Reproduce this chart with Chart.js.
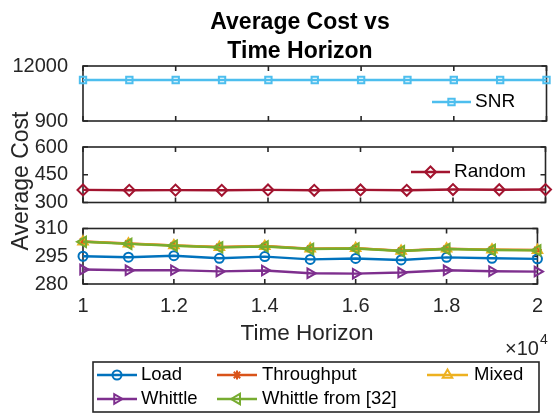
<!DOCTYPE html>
<html>
<head>
<meta charset="utf-8">
<script src="https://cdn.jsdelivr.net/npm/chart.js@4.4.1/dist/chart.umd.min.js"></script>
<style>
  html, body { margin: 0; padding: 0; background: #fff; }
  #wrap { position: relative; width: 553px; height: 414px; }
  #wrap canvas { position: absolute; left: 0; top: 0; }
</style>
</head>
<body>
<div id="wrap">
  <canvas id="snrCanvas" width="553" height="414"></canvas>
  <canvas id="randomCanvas" width="553" height="414"></canvas>
  <canvas id="lowCanvas" width="553" height="414"></canvas>
</div>
<script>
// ---------------------- DATA (time horizon in steps, x-axis shown as x10^4)
const timeHorizon = [10000, 11000, 12000, 13000, 14000, 15000, 16000, 17000, 18000, 19000, 20000];
const xTicks = [10000, 12000, 14000, 16000, 18000, 20000];
const xTickLabels = ['1', '1.2', '1.4', '1.6', '1.8', '2'];

const snrCost = [9170, 9170, 9170, 9170, 9170, 9170, 9170, 9170, 9170, 9170, 9170];
const randomCost = [368, 366, 367, 366, 368, 366, 368, 366, 370, 369, 370];
const loadCost = [295.0, 294.5, 295.3, 293.9, 294.8, 293.3, 293.8, 293.0, 294.4, 293.9, 293.6];
const throughputCost = [303.0, 301.9, 300.9, 300.0, 300.5, 299.1, 299.4, 298.0, 299.1, 298.6, 298.4];
const mixedCost = [302.9, 301.8, 300.8, 299.9, 300.4, 299.0, 299.3, 297.9, 299.0, 298.5, 298.3];
const whittleCost = [287.8, 287.4, 287.5, 286.8, 287.3, 285.8, 285.6, 286.2, 287.4, 286.9, 286.7];
const whittleRef32Cost = [302.8, 301.7, 300.7, 299.8, 300.3, 298.9, 299.2, 297.8, 298.9, 298.4, 298.2];

const snrTicks = [900, 12000];
const randomTicks = [300, 450, 600];
const lowTicks = [280, 295, 310];

const titleLines = ['Average Cost vs', 'Time Horizon'];
const yTitle = 'Average Cost';
const xTitle = 'Time Horizon';

// ---------------------- STYLE
const fontFamily = '"Liberation Sans", Arial, Helvetica, sans-serif';
const axisColor = '#262626';
const X_AXIS_HEIGHT = 40;

function series(label, values, color, pointStyle, radius, rotation, order) {
    return {
        label: label,
        order: order,
        data: timeHorizon.map((t, i) => ({ x: t, y: values[i] })),
        borderColor: color,
        backgroundColor: color,
        borderWidth: 2.4,
        pointStyle: pointStyle,
        pointRadius: radius,
        pointRotation: rotation,
        pointBorderColor: color,
        pointBackgroundColor: 'rgba(0,0,0,0)',
        pointBorderWidth: 2,
        clip: false,
        tension: 0
    };
}

const snrSeries = series('SNR', snrCost, '#4DBEEE', 'rect', 4.5, 0, 0);
const randomSeries = series('Random', randomCost, '#A2142F', 'rectRot', 5.5, 0, 0);
const loadSeries = series('Load', loadCost, '#0072BD', 'circle', 4.5, 0, 5);
const throughputSeries = series('Throughput', throughputCost, '#D95319', 'star', 4.5, 0, 4);
const mixedSeries = series('Mixed', mixedCost, '#EDB120', 'triangle', 5.5, 0, 3);
const whittleSeries = series('Whittle', whittleCost, '#7E2F8E', 'triangle', 5.5, 90, 2);
const whittleRefSeries = series('Whittle from [32]', whittleRef32Cost, '#77AC30', 'triangle', 6, -90, 1);

//---------------------- PLUGINS

function drawLegendSample(ctx, ds, x0, x1, y) {
    ctx.strokeStyle = ds.borderColor;
    ctx.lineWidth = ds.borderWidth;
    ctx.beginPath();
    ctx.moveTo(x0, y);
    ctx.lineTo(x1, y);
    ctx.stroke();
    ctx.lineWidth = ds.pointBorderWidth;
    ctx.fillStyle = 'rgba(0,0,0,0)';
    Chart.helpers.drawPoint(ctx, {
        pointStyle: ds.pointStyle,
        radius: ds.pointRadius,
        rotation: ds.pointRotation,
        borderWidth: ds.pointBorderWidth
    }, (x0 + x1) / 2, y);
}

// box + inward ticks, drawn under the data like matlab
const boxPlugin = {
    id: 'matlabBox',
    beforeDatasetsDraw(chart, args, opts) {
        const ctx = chart.ctx;
        const a = chart.chartArea;
        const xs = chart.scales.x;
        const ys = chart.scales.y;
        ctx.save();
        ctx.strokeStyle = axisColor;
        ctx.lineWidth = 1.6;
        ctx.strokeRect(a.left, a.top, a.right - a.left, a.bottom - a.top);
        ctx.beginPath();
        xTicks.forEach(v => {
            const px = xs.getPixelForValue(v);
            ctx.moveTo(px, a.top); ctx.lineTo(px, a.top + 5);
            ctx.moveTo(px, a.bottom); ctx.lineTo(px, a.bottom - 5);
        });
        opts.yTicks.forEach(v => {
            const py = ys.getPixelForValue(v);
            ctx.moveTo(a.left, py); ctx.lineTo(a.left + 5, py);
            ctx.moveTo(a.right, py); ctx.lineTo(a.right - 5, py);
        });
        ctx.stroke();
        ctx.restore();
    },
    afterDatasetsDraw(chart, args, opts) {
        const ctx = chart.ctx;
        ctx.save();
        (opts.legend || []).forEach(item => {
            drawLegendSample(ctx, item.ds, item.x0, item.x1, item.y);
            ctx.fillStyle = '#000';
            ctx.font = '19px ' + fontFamily;
            ctx.textBaseline = 'middle';
            ctx.textAlign = 'left';
            ctx.fillText(item.ds.label, item.textX, item.y);
        });
        ctx.restore();
    }
};

// titles, axis labels, exponent and the bottom legend
const decorPlugin = {
    id: 'decor',
    afterDraw(chart) {
        const ctx = chart.ctx;
        ctx.save();
        ctx.fillStyle = '#000';
        ctx.textAlign = 'center';
        ctx.textBaseline = 'alphabetic';
        ctx.font = 'bold 23px ' + fontFamily;
        ctx.fillText(titleLines[0], 300, 29);
        ctx.fillText(titleLines[1], 300, 58);

        ctx.fillStyle = axisColor;
        ctx.font = '22.5px ' + fontFamily;
        ctx.fillText(xTitle, 307, 340);

        ctx.save();
        ctx.translate(28, 181);
        ctx.rotate(-Math.PI / 2);
        ctx.font = '23px ' + fontFamily;
        ctx.fillText(yTitle, 0, 0);
        ctx.restore();

        ctx.textAlign = 'left';
        ctx.font = '20px ' + fontFamily;
        ctx.fillText('\u00d710', 505, 355);
        const w = ctx.measureText('\u00d710').width;
        ctx.font = '14px ' + fontFamily;
        ctx.fillText('4', 505 + w + 1, 344);

        // legend box
        ctx.fillStyle = '#fff';
        ctx.fillRect(93, 362, 446, 50);
        ctx.strokeStyle = axisColor;
        ctx.lineWidth = 1.6;
        ctx.strokeRect(93, 362, 446, 50);
        const entries = [
            { ds: loadSeries, x0: 97, x1: 137, textX: 141, y: 375 },
            { ds: throughputSeries, x0: 217, x1: 257, textX: 262, y: 375 },
            { ds: mixedSeries, x0: 427, x1: 468, textX: 474, y: 375 },
            { ds: whittleSeries, x0: 97, x1: 137, textX: 141, y: 399 },
            { ds: whittleRefSeries, x0: 217, x1: 257, textX: 262, y: 399 }
        ];
        entries.forEach(e => {
            drawLegendSample(ctx, e.ds, e.x0, e.x1, e.y);
            ctx.fillStyle = '#000';
            ctx.font = '18.5px ' + fontFamily;
            ctx.textBaseline = 'middle';
            ctx.fillText(e.ds.label, e.textX, e.y);
        });
        ctx.restore();
    }
};

//---------------------- CHARTS

function makePanel(canvasId, datasets, yMin, yMax, yTicks, area, showX, legend, extraPlugins) {
    return new Chart(document.getElementById(canvasId).getContext('2d'), {
        type: 'line',
        data: { datasets: datasets },
        options: {
            responsive: false,
            animation: false,
            events: [],
            layout: {
                padding: {
                    left: 0,
                    right: 553 - area.right,
                    top: area.top,
                    bottom: 414 - area.bottom - (showX ? X_AXIS_HEIGHT : 0)
                }
            },
            plugins: {
                legend: { display: false },
                tooltip: { enabled: false },
                matlabBox: { yTicks: yTicks, legend: legend }
            },
            scales: {
                x: {
                    type: 'linear',
                    min: 10000,
                    max: 20000,
                    display: showX,
                    grid: { display: false, drawTicks: false },
                    border: { display: false },
                    ticks: {
                        color: axisColor,
                        padding: 10,
                        font: { family: fontFamily, size: 20 },
                        callback: (value) => xTickLabels[xTicks.indexOf(value)]
                    },
                    afterBuildTicks: axis => { axis.ticks = xTicks.map(v => ({ value: v })); },
                    afterFit: axis => { axis.height = showX ? X_AXIS_HEIGHT : 0; }
                },
                y: {
                    type: 'linear',
                    min: yMin,
                    max: yMax,
                    grid: { display: false, drawTicks: false },
                    border: { display: false },
                    ticks: {
                        color: axisColor,
                        padding: 15,
                        font: { family: fontFamily, size: 20 },
                        callback: (value) => String(value)
                    },
                    afterBuildTicks: axis => { axis.ticks = yTicks.map(v => ({ value: v })); },
                    afterFit: axis => { axis.width = area.left; }
                }
            }
        },
        plugins: [boxPlugin].concat(extraPlugins || [])
    });
}

makePanel('snrCanvas', [snrSeries], 900, 12000, snrTicks,
    { left: 83, right: 547, top: 66, bottom: 121 }, false,
    [{ ds: snrSeries, x0: 432, x1: 471, textX: 475, y: 102 }]);

makePanel('randomCanvas', [randomSeries], 300, 600, randomTicks,
    { left: 83, right: 547, top: 147, bottom: 202.5 }, false,
    [{ ds: randomSeries, x0: 411, x1: 450, textX: 454, y: 172 }]);

makePanel('lowCanvas', [loadSeries, throughputSeries, mixedSeries, whittleSeries, whittleRefSeries], 280, 310, lowTicks,
    { left: 83, right: 547, top: 228.5, bottom: 284 }, true, [], [decorPlugin]);
</script>
</body>
</html>
